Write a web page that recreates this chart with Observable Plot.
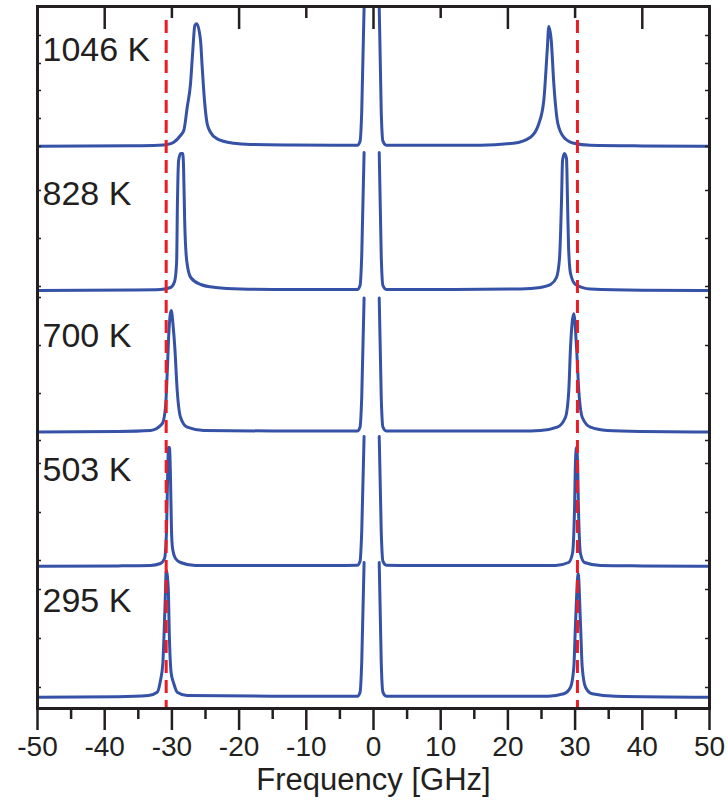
<!DOCTYPE html>
<html><head><meta charset="utf-8">
<script src="https://cdn.jsdelivr.net/npm/d3@7"></script>
<script src="https://cdn.jsdelivr.net/npm/@observablehq/plot@0.6"></script>
<style>body{margin:0;background:#fff}#chart svg{display:block}</style>
</head><body><div id="chart"></div>
<script>
// Temperatures (top to bottom) and vertical offsets of each spectrum (arb. units)
const temperatures = ["1046 K", "828 K", "700 K", "503 K", "295 K"];
const offsets = [562.3, 418, 276.5, 142.3, 11.3];

// Spectra: [frequency GHz, intensity above own baseline], anti-Stokes side and Stokes side
const s1046Left = [[-50,0],[-36,0.5],[-32,1],[-30.7,1.7],[-29.72,4],[-28.72,10.7],[-28.23,15.7],[-27.72,39],[-27.23,62.4],[-26.89,95.7],[-26.59,120.7],[-26.3,122.4],[-25.74,105.7],[-25.49,79],[-25.15,45.7],[-24.75,22.4],[-24.26,14],[-23.26,7.4],[-20.79,3],[-18.3,1.7],[-12,1.2],[-6,1],[-2.4,1],[-2.0,5],[-1.75,35],[-1.4,139]];
const s1046Right = [[0.85,139],[1.15,35],[1.4,5],[1.9,1],[6,1],[12,1],[15.92,1],[20.83,3],[23.36,9],[24.6,22.4],[25.34,45.7],[25.85,95.7],[26.09,119.7],[26.45,105.7],[26.83,62.7],[27.43,22.7],[28.32,9],[29.81,3],[32.29,1],[40,0.3],[50,0]];
const s828Left = [[-50,0],[-36,0.5],[-31.7,1],[-30.2,3],[-29.6,9],[-29.3,28],[-29.17,90],[-29.0,130],[-28.7,137],[-28.4,137],[-28.27,125],[-28.1,70],[-27.8,30],[-27.2,13],[-25.7,6],[-23.5,3],[-19.8,1.5],[-12,1],[-6,1],[-2.4,1],[-2.0,5],[-1.75,35],[-1.4,138]];
const s828Right = [[0.85,138],[1.15,35],[1.4,5],[1.9,1],[6,1],[12,1],[21.88,1.5],[24.85,3],[26.34,6],[27.23,13],[27.68,32],[27.98,90],[28.13,130],[28.42,137],[28.72,132],[28.87,90],[29.02,45],[29.32,17],[30.06,6],[32.29,1.5],[40,0.3],[50,0]];
const s700Left = [[-50,0],[-38,0.5],[-33.18,1.5],[-31.44,8.2],[-30.95,24.8],[-30.7,58.5],[-30.46,98.5],[-30.1,121.5],[-29.8,104.8],[-29.57,84.8],[-29.21,41.5],[-28.72,14.8],[-27.72,4.8],[-25.25,1.5],[-15,1],[-6,1],[-2.4,1],[-2.0,5],[-1.75,35],[-1.4,134]];
const s700Right = [[0.85,134],[1.15,35],[1.4,5],[1.9,1],[6,1],[15,1],[21.88,1],[24.85,1.5],[27.34,4.8],[28.57,14.8],[29.06,41.5],[29.32,84.8],[29.81,118.2],[30.21,84.8],[30.55,41.5],[31.06,14.8],[32.29,4.8],[34.78,1.5],[39.73,0.5],[50,0]];
const s503Left = [[-50,0],[-38,0.3],[-33.18,0.7],[-31.7,2.7],[-31.1,7.7],[-30.8,35.7],[-30.65,85.7],[-30.5,118.7],[-30.36,118.7],[-30.2,85.7],[-30.06,35.7],[-29.9,17.7],[-29.46,7.7],[-28.72,3.7],[-26.5,0.7],[-15,0.7],[-6,0.7],[-2.4,1],[-2.0,5],[-1.75,35],[-1.4,129.7]];
const s503Right = [[0.85,129.7],[1.15,35],[1.4,5],[1.9,1],[6,0.7],[15,0.7],[27.08,0.7],[29.02,3.7],[29.61,12.7],[29.91,55.7],[30.06,105.7],[30.21,118.7],[30.36,105.7],[30.51,55.7],[30.8,12.7],[31.4,3.7],[33.78,0.7],[40,0.3],[50,0]];
const s295Left = [[-50,0],[-38,0.5],[-33.5,1.7],[-32.19,5],[-31.7,16.7],[-31.35,33.7],[-31.2,56.7],[-30.95,106.7],[-30.85,126.7],[-30.55,110],[-30.36,56.7],[-30.1,23.7],[-29.72,13.7],[-29.21,5],[-27.72,1.7],[-15,1],[-6,1],[-2.4,1],[-2.0,5],[-1.75,35],[-1.4,134.7]];
const s295Right = [[0.85,134.7],[1.15,35],[1.4,5],[1.9,1],[6,1],[15,1],[26,1],[28.32,3.4],[29.32,10],[29.81,30],[30.06,73.7],[30.46,123.4],[30.8,73.7],[31.06,30],[31.55,10],[32.54,3.4],[36,1],[50,0]];
const spectra = [[s1046Left, s1046Right],[s828Left, s828Right],[s700Left, s700Right],[s503Left, s503Right],[s295Left, s295Right]];

// Phonon frequency reference (red dashed lines), GHz
const referenceLines = [-30.85, 30.35];

// Tick values
const majorTicks = [-50,-40,-30,-20,-10,0,10,20,30,40,50];
const minorTicks = [-45,-35,-25,-15,-5,5,15,25,35,45];
const topLongTicks = [-40,-20,0,20,40];
const topShortTicks = [-30,-10,10,30];
const sideTicks = [673,645,618,590,562,518,470,422,411,363,315,268,245,196,148,119,70,21];
const xTitle = "Frequency [GHz]";

const rows = [];
spectra.forEach((segs, i) => segs.forEach((seg, j) => seg.forEach(([f, v]) => rows.push({f, v: offsets[i] + v, key: i + "-" + j}))));

const blue = "#3552a6", red = "#ec1c24", ink = "#231f20";
const frameW = 728 - 37 - 19, frameH = 702;

const chart = Plot.plot({
  width: 728, height: 800,
  marginTop: 6, marginLeft: 37, marginRight: 19, marginBottom: 92,
  style: {fontFamily: "'Liberation Sans', Arial, sans-serif", background: "#fff", color: ink},
  x: {domain: [-50, 50]},
  y: {domain: [0, 702], axis: null},
  marks: [
    Plot.line(rows, {x: "f", y: "v", z: "key", stroke: blue, strokeWidth: 3, curve: "monotone-x"}),
    Plot.ruleX(referenceLines, {stroke: red, strokeWidth: 3, strokeDasharray: "13 7", insetTop: 14}),
    Plot.tickX(topLongTicks, {stroke: ink, strokeWidth: 2.5, insetBottom: frameH - 23}),
    Plot.tickX(topShortTicks, {stroke: ink, strokeWidth: 2.5, insetBottom: frameH - 12}),
    Plot.tickY(sideTicks, {stroke: ink, strokeWidth: 1.5, insetRight: frameW - 4}),
    Plot.tickY(sideTicks, {stroke: ink, strokeWidth: 1.5, insetLeft: frameW - 4}),
    Plot.frame({stroke: ink, strokeWidth: 3}),
    Plot.axisX({ticks: majorTicks, tickSize: 22, tickPadding: 6, strokeWidth: 2.5, fontSize: 28, tickFormat: d => String(d), label: null}),
    Plot.axisX({ticks: minorTicks, tickSize: 11, strokeWidth: 2.5, tickFormat: () => "", label: null}),
    Plot.text(temperatures, {y: (d, i) => offsets[i] + 96, frameAnchor: "left", dx: 5, textAnchor: "start", lineAnchor: "middle", fontSize: 34, fill: ink, text: d => d}),
    Plot.text([xTitle], {frameAnchor: "bottom", dy: 72, lineAnchor: "middle", fontSize: 31, fill: ink, text: d => d})
  ]
});
document.getElementById("chart").append(chart);
</script>
</body></html>
